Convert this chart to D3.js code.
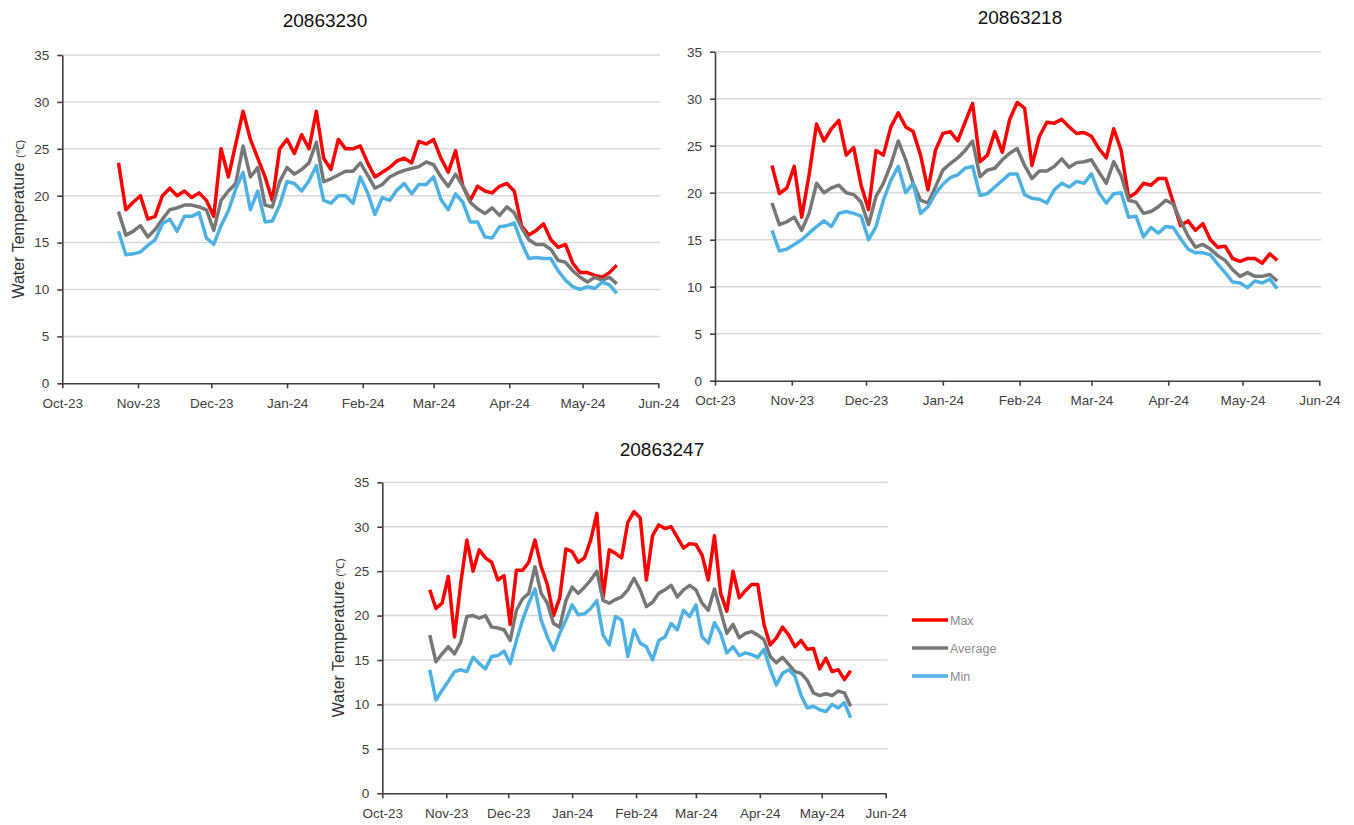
<!DOCTYPE html>
<html>
<head>
<meta charset="utf-8">
<script src="https://cdn.jsdelivr.net/npm/d3@7"></script>
<style>
  body { margin: 0; background: #fff; }
  svg { display: block; }
  text { font-family: "Liberation Sans", Arial, sans-serif; }
</style>
</head>
<body>
<svg id="chart" width="1354" height="825"></svg>
<script>
// readings sampled every 3 days, 24 Oct 2023 .. 15 May 2024
var sampleDates = d3.timeDay.range(new Date(2023, 9, 24), new Date(2024, 4, 16), 3);
var monthTicks = d3.timeMonth.range(new Date(2023, 9, 1), new Date(2024, 5, 2));
var tickLabels = ["Oct-23","Nov-23","Dec-23","Jan-24","Feb-24","Mar-24","Apr-24","May-24","Jun-24"];
var yTicks = [0, 5, 10, 15, 20, 25, 30, 35];
var seriesNames = ["Max", "Average", "Min"];
var seriesColors = ["#ff0000", "#777777", "#4db2e3"];

var max20863230 = [23.5,18.5,19.3,20,17.5,17.8,20,20.8,20,20.5,19.8,20.3,19.5,17.8,25,22,25.5,29,26,24,22,19.5,25,26,24.5,26.5,25,29,24,22.8,26,
  25,25,25.3,23.5,22,22.5,23,23.7,24,23.5,25.8,25.5,26,24,22.5,24.8,21,19.5,21,20.5,20.3,21,21.3,20.5,16.8,15.8,16.3,17,15.3,14.5,14.8,12.8,11.8,11.8,11.5,11.3,11.8,12.6];
var avg20863230 = [18.3,15.8,16.2,16.8,15.6,16.4,17.5,18.5,18.7,19,19,18.8,18.5,16.3,19.5,20.5,21.3,25.3,22,23,19,18.8,21.5,23,22.3,22.8,23.5,25.7,21.5,21.8,22.2,
  22.6,22.6,23.5,22.2,20.8,21.2,22,22.4,22.7,22.9,23.1,23.6,23.3,22,21,22.3,21,19.3,18.6,18.1,18.7,17.9,18.8,18.2,16.6,15.3,14.8,14.8,14.3,13.1,12.9,12,11.3,10.8,11.3,11,11.3,10.6];
var min20863230 = [16.2,13.7,13.8,14,14.7,15.3,17,17.5,16.2,17.8,17.8,18.2,15.5,14.8,16.8,18.4,20.7,22.5,18.5,20.5,17.2,17.3,19,21.5,21.3,20.5,21.6,23.2,19.5,19.2,20,
  20,19.2,22,20.3,18,19.8,19.5,20.6,21.3,20.2,21.2,21.2,22,19.6,18.5,20.2,19.3,17.2,17.2,15.6,15.5,16.7,16.8,17.1,15,13.3,13.4,13.3,13.3,12,11,10.3,10,10.3,10.1,10.8,10.5,9.6];

var max20863218 = [22.9,19.9,20.5,22.8,17.4,21.9,27.3,25.5,26.8,27.7,24,24.8,20.8,18.2,24.5,24,27,28.5,27,26.5,24,20.3,24.5,26.3,26.5,25.5,27.5,29.5,23.3,24,26.5,
  24.3,27.8,29.6,29,22.9,26,27.5,27.4,27.8,27,26.3,26.4,26,24.7,23.7,26.8,24.5,19.5,20,21,20.8,21.5,21.5,19,16.5,17,16,16.7,15,14.2,14.3,13,12.7,13,13,12.5,13.5,12.8];
var avg20863218 = [18.9,16.6,16.9,17.4,16,17.8,21,20,20.5,20.8,20,19.8,19,16.6,19.6,21,23,25.5,23.5,21,19.2,18.9,20.6,22.4,23.1,23.7,24.5,25.5,21.7,22.4,22.6,
  23.5,24.2,24.7,22.9,21.5,22.3,22.3,22.8,23.6,22.7,23.2,23.3,23.5,22.2,21,23.3,21.8,19.2,19,17.8,18,18.5,19.2,18.8,17,15.4,14.2,14.5,14,13.3,12.8,11.8,11.1,11.5,11.1,11.1,11.3,10.6];
var min20863218 = [16,13.8,14,14.5,15,15.7,16.4,17,16.4,17.8,18,17.8,17.5,15,16.4,19.2,21.3,22.8,20,21,17.8,18.5,19.9,20.9,21.6,21.9,22.6,22.8,19.7,19.9,20.6,
  21.3,22,22,19.8,19.4,19.3,18.9,20.3,21,20.6,21.2,21,22,20,18.9,19.9,20,17.4,17.5,15.3,16.3,15.7,16.4,16.3,15.1,14,13.6,13.6,13.4,12.4,11.5,10.5,10.4,9.9,10.6,10.4,10.8,9.8];

var max20863247 = [22.9,20.8,21.4,24.4,17.6,23.6,28.5,25,27.4,26.5,26,24,24.5,19,25.1,25.1,26,28.5,25.5,23.5,20,22,27.5,27.2,26,26.5,28.5,31.5,22,27.4,27,
  26.5,30.5,31.7,31,24,29,30.2,29.8,30,28.8,27.6,28.1,28,26.8,24,29,22.5,20.5,25,22,22.8,23.5,23.5,19,16.7,17.5,18.7,17.8,16.5,17.2,16.2,16.3,14,15.2,13.7,13.9,12.8,13.8];
var avg20863247 = [17.8,14.8,15.7,16.5,15.7,17,19.9,20,19.7,20,18.7,18.6,18.4,17.2,20.6,21.9,22.5,25.5,22.5,21.4,19.1,18.7,21.7,23.2,22.5,23.2,24,25,21.7,21.4,21.8,
  22.1,22.9,24.2,22.9,21,21.5,22.5,22.9,23.4,22.1,22.9,23.4,22.9,21.4,20.6,23,20.5,18,19,17.5,18,18.2,17.8,17.3,15.4,14.7,15.3,14.5,13.7,13.5,12.7,11.3,11,11.2,11,11.5,11.3,9.8];
var min20863247 = [13.9,10.5,11.6,12.6,13.7,13.9,13.7,15.3,14.6,14,15.4,15.5,16,14.6,17.2,19.5,21.4,23,19.5,17.6,16.1,18,19.5,21.2,20.1,20.2,20.8,21.7,17.8,16.7,19.9,
  19.5,15.4,18.4,16.9,16.5,15,17.2,17.6,19.1,18.4,20.6,19.9,21.2,17.6,16.9,19.2,18,15.8,16.5,15.5,15.8,15.6,15.3,16.2,14,12.2,13.5,13.9,13.2,11,9.6,9.8,9.4,9.2,10,9.6,10.2,8.5];

var svg = d3.select("#chart");

function drawPanel(p) {
  var x = d3.scaleTime()
      .domain([monthTicks[0], monthTicks[monthTicks.length - 1]])
      .range([p.left, p.right]);
  var y = d3.scaleLinear().domain([0, 35]).range([p.bottom, p.top]);
  var g = svg.append("g");

  // horizontal gridlines
  g.selectAll("line.grid").data(yTicks.slice(1)).enter().append("line")
    .attr("x1", p.left).attr("x2", p.right + 2)
    .attr("y1", function(d){ return y(d); }).attr("y2", function(d){ return y(d); })
    .style("stroke", "#d9d9d9").style("stroke-width", 1.5);

  var yAxis = g.append("g").attr("transform", "translate(" + p.left + ",0)")
    .call(d3.axisLeft(y).tickValues(yTicks).tickSize(5).tickSizeOuter(0).tickPadding(8));
  var xAxis = g.append("g").attr("transform", "translate(0," + p.bottom + ")")
    .call(d3.axisBottom(x).tickValues(monthTicks)
      .tickFormat(function(d, i){ return tickLabels[i]; })
      .tickSize(5).tickSizeOuter(0).tickPadding(10));
  [yAxis, xAxis].forEach(function(a){
    a.selectAll("path, line").style("stroke", "#404040").style("stroke-width", 1.6);
    a.selectAll("text").style("font-size", "13.5px").style("fill", "#404040")
      .style("font-family", "'Liberation Sans', Arial, sans-serif");
  });

  var line = d3.line()
    .x(function(d){ return x(d.date); })
    .y(function(d){ return y(d.value); });

  p.series.forEach(function(vals, k){
    var pts = vals.map(function(v, i){ return {date: sampleDates[i], value: v}; });
    g.append("path").datum(pts)
      .attr("d", line)
      .style("fill", "none")
      .style("stroke", seriesColors[k])
      .style("stroke-width", 3.5)
      .style("stroke-linejoin", "round");
  });

  g.append("text")
    .attr("x", p.titleX).attr("y", p.titleY)
    .attr("text-anchor", "middle")
    .style("font-size", "19px").style("fill", "#111")
    .text(p.title);

  if (p.yLabelX) {
    var t = g.append("text")
      .attr("transform", "translate(" + p.yLabelX + "," + ((p.top + p.bottom) / 2) + ") rotate(-90)")
      .attr("text-anchor", "middle")
      .style("font-size", "16px").style("fill", "#333");
    t.append("tspan").text("Water Temperature ");
    t.append("tspan").style("font-size", "11px").text("(℃)");
  }
  return {x: x, y: y};
}

drawPanel({title: "20863230", left: 62.3, right: 658.3, top: 55, bottom: 383.3,
  titleX: 325, titleY: 27, yLabelX: 24,
  series: [max20863230, avg20863230, min20863230]});
drawPanel({title: "20863218", left: 715, right: 1319.3, top: 51.7, bottom: 380.7,
  titleX: 1020, titleY: 24,
  series: [max20863218, avg20863218, min20863218]});
drawPanel({title: "20863247", left: 382.3, right: 885.7, top: 482.3, bottom: 793.3,
  titleX: 662, titleY: 456, yLabelX: 344,
  series: [max20863247, avg20863247, min20863247]});

// legend
var legend = svg.append("g").attr("transform", "translate(912,620)");
seriesNames.forEach(function(name, i){
  var row = legend.append("g").attr("transform", "translate(0," + (i * 28) + ")");
  row.append("line").attr("x1", 0).attr("x2", 36).attr("y1", 0).attr("y2", 0)
    .style("stroke", seriesColors[i]).style("stroke-width", 3.5);
  row.append("text").attr("x", 38).attr("y", 4.5)
    .style("font-size", "12.5px").style("fill", "#8c8c8c").text(name);
});
</script>
</body>
</html>
